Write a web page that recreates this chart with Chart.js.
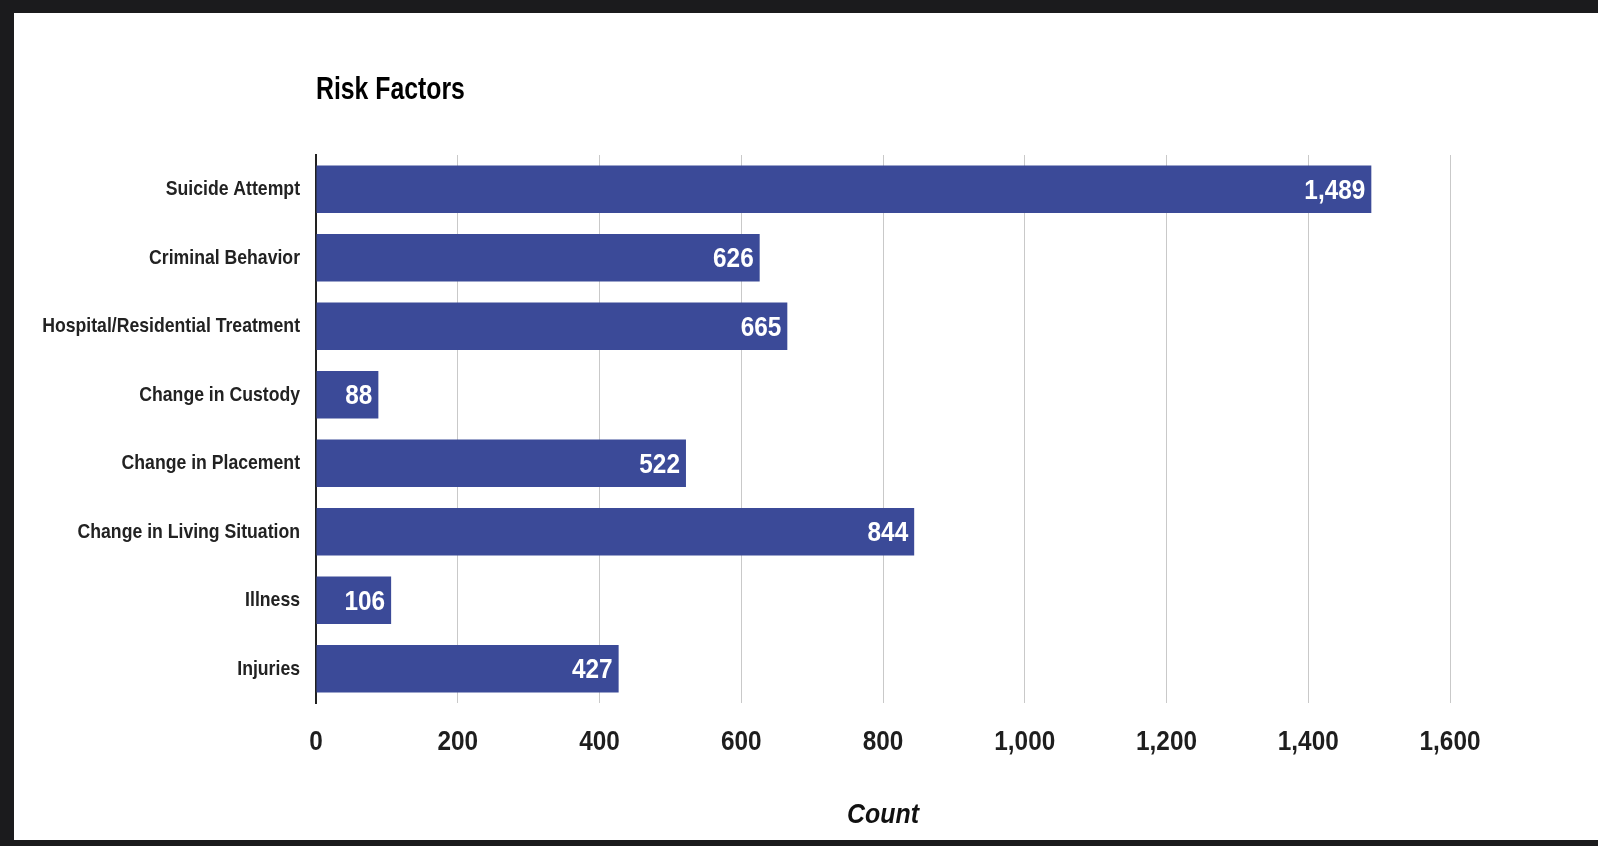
<!DOCTYPE html>
<html>
<head>
<meta charset="utf-8">
<script src="https://cdn.jsdelivr.net/npm/chart.js@4.4.1/dist/chart.umd.min.js"></script>
<style>
  html, body { margin: 0; padding: 0; background: #1b1b1d; overflow: hidden; }
  #marco { position: absolute; left: 14px; top: 13px; width: 1584px; height: 827px; background: #ffffff; }
</style>
</head>
<body>
<div id="marco"><canvas id="myChart" width="1584" height="827"></canvas></div>
<script>
const categorias = ['Suicide Attempt', 'Criminal Behavior', 'Hospital/Residential Treatment', 'Change in Custody',
  'Change in Placement', 'Change in Living Situation', 'Illness', 'Injuries'] //los factores
const valores = [1489, 626, 665, 88, 522, 844, 106, 427] //los conteos
const ticksX = [0, 200, 400, 600, 800, 1000, 1200, 1400, 1600] //marcas del eje x

const fuente = "'Liberation Sans', Arial, sans-serif"
const ctx = document.getElementById('myChart')

// escribe un texto comprimido en horizontal (para imitar la letra estrecha)
function texto(c, str, x, y, align, font, color, estrecho) {
  c.save()
  c.font = font
  c.fillStyle = color
  c.textAlign = align
  c.textBaseline = 'middle'
  c.translate(x, y)
  c.scale(estrecho, 1)
  c.fillText(str, 0, 0)
  c.restore()
}

// plugin para todos los textos: titulo, etiquetas de ejes y valores de las barras
const etiquetas = {
  id: 'etiquetas',
  afterDraw(chart) {
    const c = chart.ctx
    const area = chart.chartArea
    const sx = chart.scales.x
    const sy = chart.scales.y
    texto(c, 'Risk Factors', area.left, 77, 'left', 'bold 31px ' + fuente, '#000', 0.8)
    categorias.forEach(function(cat, i) {
      texto(c, cat, area.left - 16, sy.getPixelForValue(i), 'right', 'bold 21px ' + fuente, '#222', 0.84)
    })
    ticksX.forEach(function(v) {
      texto(c, v.toLocaleString('en-US'), sx.getPixelForValue(v), 729, 'center', 'bold 28px ' + fuente, '#1e1e1e', 0.87)
    })
    texto(c, 'Count', (area.left + area.right) / 2, 802, 'center', 'italic bold 28px ' + fuente, '#111', 0.89)
    chart.getDatasetMeta(0).data.forEach(function(bar, i) {
      texto(c, valores[i].toLocaleString('en-US'), bar.x - 6, bar.y + 2, 'right', 'bold 28px ' + fuente, '#ffffff', 0.87)
    })
  }
}

new Chart(ctx, {
  type: 'bar',
  data: {
    labels: categorias,
    datasets: [{
      data: valores,
      backgroundColor: '#3b4a98',
      borderWidth: 0,
      categoryPercentage: 0.69,
      barPercentage: 1
    }]
  },
  options: {
    indexAxis: 'y',
    responsive: false,
    animation: false,
    layout: { padding: { top: 142, right: 148, left: 0, bottom: 0 } },
    plugins: { legend: { display: false }, tooltip: { enabled: false }, title: { display: false } },
    scales: {
      x: {
        min: 0,
        max: 1600,
        afterBuildTicks(scale) { scale.ticks = ticksX.map(v => ({ value: v })) },
        afterFit(scale) { scale.height = 137 },
        grid: { color: '#c9c9c9', lineWidth: 1, drawTicks: false },
        border: { display: false },
        ticks: { color: 'rgba(0,0,0,0)', font: { size: 28 } } //los dibuja el plugin
      },
      y: {
        afterFit(scale) { scale.width = 302 },
        grid: { display: false },
        border: { display: true, color: '#222', width: 2 },
        ticks: { color: 'rgba(0,0,0,0)', font: { size: 20 } } //los dibuja el plugin
      }
    }
  },
  plugins: [etiquetas]
})
</script>
</body>
</html>
